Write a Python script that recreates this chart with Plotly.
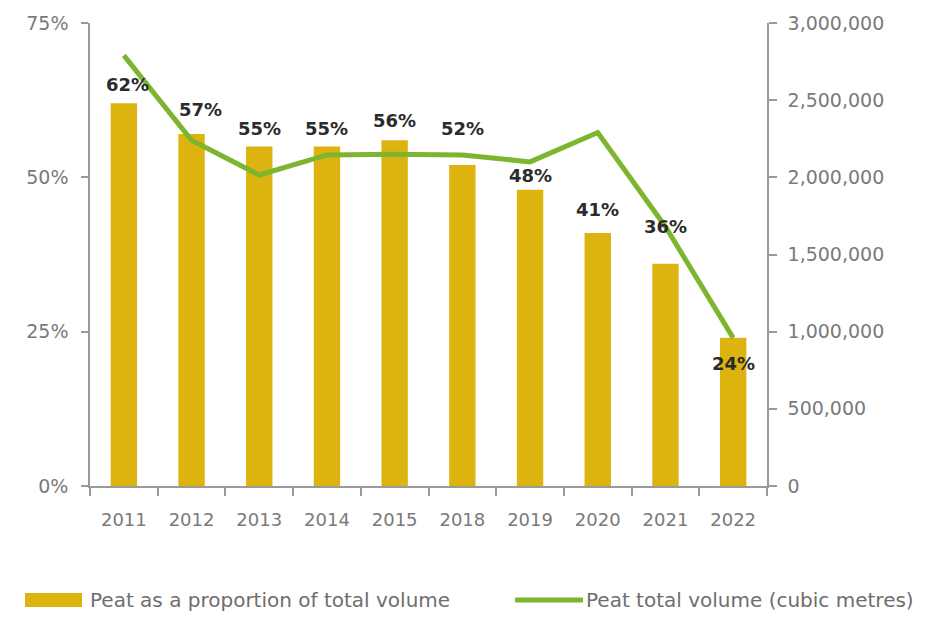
import plotly.graph_objects as go

years = ["2011", "2012", "2013", "2014", "2015", "2018", "2019", "2020", "2021", "2022"]
peat_share = [62, 57, 55, 55, 56, 52, 48, 41, 36, 24]
peat_volume = [2790000, 2240000, 2015000, 2145000, 2150000, 2145000, 2100000, 2290000, 1680000, 960000]
share_labels = ["62%", "57%", "55%", "55%", "56%", "52%", "48%", "41%", "36%", "24%"]
left_ticks = [0, 25, 50, 75]
right_ticks = [0, 500000, 1000000, 1500000, 2000000, 2500000, 3000000]

# label placement styling (pixels)
label_yshift = [19, 25, 18, 18, 20, 36, 14, 23, 37, -26]
label_xshift = [4, 9, 0, 0, 0, 0, 0, 0, 0, 0]

BAR = "#DDB40F"
LINE = "#7DB52F"
AXIS = "#9a9a9a"
TXT = "#7a7a7a"
FONT = "DejaVu Sans"

fig = go.Figure()
fig.add_trace(go.Bar(x=years, y=peat_share, marker=dict(color=BAR, line=dict(width=0)),
                     width=0.39, name="Peat as a proportion of total volume", showlegend=False))
fig.add_trace(go.Scatter(x=years, y=peat_volume, yaxis="y2", mode="lines",
                         line=dict(color=LINE, width=5), name="Peat total volume (cubic metres)",
                         showlegend=False))

for i, (v, t, ys, xs) in enumerate(zip(peat_share, share_labels, label_yshift, label_xshift)):
    fig.add_annotation(x=i, y=v, xref="x", yref="y", text="<b>%s</b>" % t, showarrow=False,
                       yanchor="middle", yshift=ys, xshift=xs,
                       font=dict(family=FONT, size=18, color="#2b2b2b"))

# custom legend
PW = 677.0
PH = 467.0
fig.add_shape(type="rect", xref="paper", yref="paper", x0=-65/PW, x1=-8/PW, y0=-108/PH, y1=-122/PH,
              fillcolor=BAR, line=dict(width=0))
fig.add_annotation(xref="paper", yref="paper", x=-2/PW, y=-115/PH, xanchor="left", yanchor="middle",
                   text="Peat as a proportion of total volume", showarrow=False,
                   font=dict(family=FONT, size=20, color="#6e6e6e"))
fig.add_shape(type="line", xref="paper", yref="paper", x0=425/PW, x1=493/PW, y0=-115/PH, y1=-115/PH,
              line=dict(color=LINE, width=5))
fig.add_annotation(xref="paper", yref="paper", x=494/PW, y=-115/PH, xanchor="left", yanchor="middle",
                   text="Peat total volume (cubic metres)", showarrow=False,
                   font=dict(family=FONT, size=20, color="#6e6e6e"))

fig.update_layout(
    width=927, height=617,
    margin=dict(l=90, r=160, t=19, b=131),
    paper_bgcolor="white", plot_bgcolor="white",
    font=dict(family=FONT, size=18, color=TXT),
    xaxis=dict(type="category", range=[-0.5, 9.5], showline=True, linecolor=AXIS, linewidth=1.5,
               ticks="outside", tickson="boundaries", ticklen=8, tickcolor=AXIS, tickwidth=1.5,
               showgrid=False, tickfont=dict(family=FONT, size=18, color=TXT), ticklabelstandoff=17),
    yaxis=dict(range=[0, 75], tickvals=left_ticks, ticktext=["%d%%" % v for v in left_ticks],
               showline=True, linecolor=AXIS, linewidth=1.5, ticks="outside", ticklen=7,
               tickcolor=AXIS, tickwidth=1.5, showgrid=False, zeroline=False,
               tickfont=dict(family=FONT, size=19, color=TXT), ticklabelstandoff=9),
    yaxis2=dict(range=[0, 3000000], tickvals=right_ticks, ticktext=["{:,}".format(v) for v in right_ticks],
                overlaying="y", side="right", showline=True, linecolor=AXIS, linewidth=1.5,
                ticks="outside", ticklen=8, tickcolor=AXIS, tickwidth=1.5, showgrid=False,
                zeroline=False, tickfont=dict(family=FONT, size=19, color=TXT), ticklabelstandoff=7),
    showlegend=False,
)

fig.write_html("out.html")
